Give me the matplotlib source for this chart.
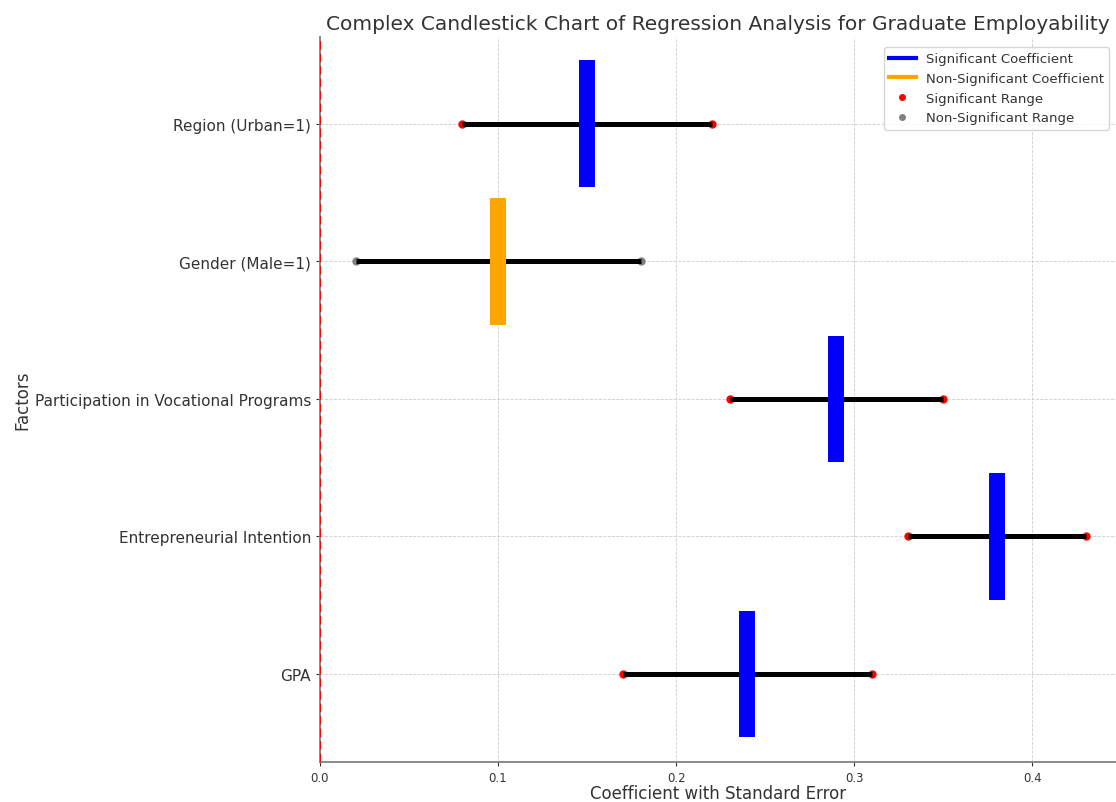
import numpy as np
import matplotlib.pyplot as plt
from matplotlib.lines import Line2D

# regression results
factors = ['GPA', 'Entrepreneurial Intention', 'Participation in Vocational Programs',
           'Gender (Male=1)', 'Region (Urban=1)']
coef = [0.24, 0.38, 0.29, 0.10, 0.15]
low = [0.17, 0.33, 0.23, 0.02, 0.08]
high = [0.31, 0.43, 0.35, 0.18, 0.22]
significant = [True, True, True, False, True]

text_col = '#333333'
plt.rcParams['text.color'] = text_col
plt.rcParams['axes.labelcolor'] = text_col
plt.rcParams['xtick.color'] = text_col
plt.rcParams['ytick.color'] = text_col

fig = plt.figure(figsize=(11.16, 8.03), dpi=100)
ax = fig.add_axes([0.2867, 0.0498, 0.7133, 0.9029])

y = np.arange(len(factors))
for i in range(len(factors)):
    dot_col = 'red' if significant[i] else 'grey'
    bar_col = 'blue' if significant[i] else 'orange'
    # end points of the range, then the range line, then the candle body
    ax.plot([low[i], high[i]], [y[i], y[i]], 'o', color=dot_col, markersize=5, zorder=3)
    ax.plot([low[i], high[i]], [y[i], y[i]], color='black', linewidth=3.6,
            solid_capstyle='butt', zorder=4)
    ax.vlines(coef[i], y[i] - 0.46, y[i] + 0.46, color=bar_col, linewidth=11.5, zorder=5)

ax.axvline(0, color='red', linestyle=(0, (4, 2)), linewidth=1.5, zorder=6)

ax.set_yticks(y)
ax.set_yticklabels(factors, fontsize=11)
ax.set_xticks([0.0, 0.1, 0.2, 0.3, 0.4])
ax.set_xticklabels(['0.0', '0.1', '0.2', '0.3', '0.4'], fontsize=8.5)
ax.set_xlim(0, 0.447)
ax.set_ylim(-0.64, 4.63)

ax.grid(True, linestyle='--', linewidth=0.6, color='#cccccc')
ax.set_axisbelow(True)
for side in ['top', 'right']:
    ax.spines[side].set_visible(False)
for side in ['left', 'bottom']:
    ax.spines[side].set_color('#808080')
    ax.spines[side].set_linewidth(1.3)
ax.tick_params(length=3, width=0.8, colors=text_col)

ax.set_title('Complex Candlestick Chart of Regression Analysis for Graduate Employability',
             fontsize=14.5, pad=6)
ax.set_xlabel('Coefficient with Standard Error', fontsize=12, labelpad=0)
ax.set_ylabel('Factors', fontsize=12, labelpad=2)

handles = [
    Line2D([0], [0], color='blue', linewidth=3, label='Significant Coefficient'),
    Line2D([0], [0], color='orange', linewidth=3, label='Non-Significant Coefficient'),
    Line2D([0], [0], marker='o', color='red', linestyle='None', markersize=4,
           label='Significant Range'),
    Line2D([0], [0], marker='o', color='grey', linestyle='None', markersize=4,
           label='Non-Significant Range'),
]
ax.legend(handles=handles, loc='upper right', fontsize=9.5, bbox_to_anchor=(1.0, 0.995))

fig.savefig('out.png', dpi=100)
